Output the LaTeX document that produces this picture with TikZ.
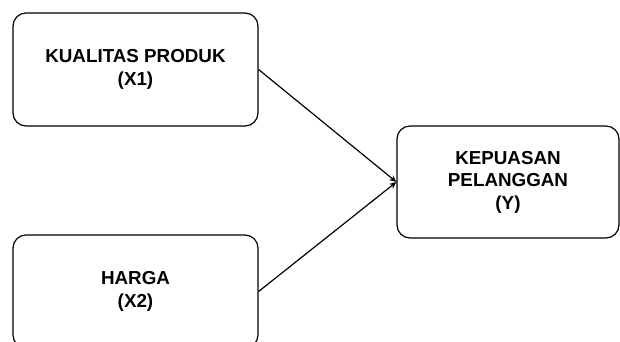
\documentclass[tikz,border=0pt]{standalone}
\usepackage{fontspec}
\setmainfont{Liberation Sans}
\usetikzlibrary{arrows.meta, positioning}

\begin{document}
\begin{tikzpicture}[x=1pt, y=-1pt, every node/.style={draw, line width=1.2pt, rounded corners=13pt, align=center, font=\fontsize{18.8}{22.5}\selectfont\bfseries}]
	\useasboundingbox (0,0) rectangle (620,342);
	\node[minimum width=245pt, minimum height=113pt] (x1) at (135.5,69.5) {KUALITAS PRODUK\\(X1)};
	\node[minimum width=245pt, minimum height=113pt] (x2) at (135.5,291.5) {HARGA\\(X2)};
	\node[minimum width=222pt, minimum height=112pt] (y) at (508,182) {KEPUASAN\\PELANGGAN\\(Y)};
	\foreach \i in {x1,x2} {\draw[line width=1.2pt, -{Stealth[length=7pt, width=6pt]}] (\i.east) -- (y.west);}
\end{tikzpicture}
\end{document}
